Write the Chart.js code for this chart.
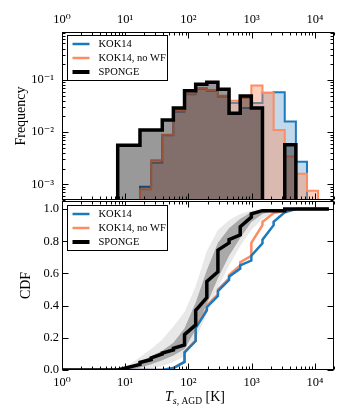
<!DOCTYPE html>
<html>
<head>
<meta charset="utf-8">
<script src="https://cdn.jsdelivr.net/npm/chart.js@4"></script>
<style>
  body { margin: 0; background: #fff; }
  #wrap { position: relative; width: 350px; height: 420px; }
  canvas { position: absolute; left: 0; }
</style>
</head>
<body>
<div id="wrap">
  <canvas id="freq_chart" width="350" height="201" style="top:0"></canvas>
  <canvas id="cdf_chart" width="350" height="220" style="top:200px"></canvas>
</div>
<script>
// Series names and colours
const series_labels = ["KOK14", "KOK14, no WF", "SPONGE"];
const series_colors = ["rgb(28,122,188)", "rgb(252,141,98)", "#000000"];
const legend_widths = [2.5, 2.5, 4];

// Histogram bin edges [K] (factor 1.5 apart) and frequencies per bin
const bin_edges = [7.6, 11.4, 17.1, 25.7, 38.5, 57.7, 86.6, 130, 195, 292, 438, 658, 986, 1479, 2219, 3328, 4993, 7489, 11234];
const freq_kok14   = [0, 0, 0.0009, 0.0026, 0.0087, 0.0247, 0.053, 0.068, 0.062, 0.048, 0.036, 0.029, 0.036, 0.057, 0.058, 0.016, 0.0027, 0];
const freq_no_wf   = [0, 0, 0.0008, 0.0029, 0.0089, 0.026, 0.055, 0.070, 0.064, 0.050, 0.040, 0.045, 0.078, 0.056, 0.011, 0.0034, 0.0016, 0.00075];
const freq_sponge  = [0.0056, 0.0056, 0.011, 0.011, 0.017, 0.029, 0.062, 0.083, 0.090, 0.066, 0.023, 0.049, 0.029, 0, 0, 0.0057, 0, 0];

// CDF curves: temperature [K] and cumulative fraction
const cdf_kok14_t = [1, 38.5, 57.7, 86.6, 86.6, 130, 130, 195, 195, 292, 292, 438, 438, 658, 658, 986, 986, 1479, 1479, 2219, 2219, 3328, 4993, 16600];
const cdf_kok14   = [0, 0, 0.012, 0.05, 0.11, 0.18, 0.26, 0.37, 0.39, 0.46, 0.49, 0.56, 0.58, 0.63, 0.65, 0.68, 0.71, 0.787, 0.81, 0.90, 0.92, 0.98, 1.0, 1.0];
const cdf_no_wf_t = [1, 38.5, 57.7, 86.6, 86.6, 130, 130, 195, 195, 292, 292, 438, 438, 658, 658, 986, 986, 1479, 1479, 2219, 3328, 4993, 16600];
const cdf_no_wf   = [0, 0, 0.012, 0.05, 0.11, 0.185, 0.27, 0.38, 0.40, 0.47, 0.50, 0.57, 0.59, 0.65, 0.67, 0.71, 0.79, 0.90, 0.92, 0.975, 0.99, 1.0, 1.0];
const cdf_sponge_t = [1, 7.6, 17.1, 17.1, 25.7, 25.7, 38.5, 38.5, 57.7, 57.7, 86.6, 86.6, 130, 130, 195, 195, 292, 292, 438, 438, 658, 658, 986, 986, 1479, 3328, 3328, 16600];
const cdf_sponge   = [0, 0, 0.035, 0.047, 0.065, 0.075, 0.10, 0.105, 0.125, 0.135, 0.155, 0.22, 0.28, 0.37, 0.45, 0.55, 0.61, 0.745, 0.79, 0.81, 0.84, 0.89, 0.95, 0.97, 0.99, 0.99, 1.0, 1.0];

// Spread of the resampled SPONGE CDFs (grey bundle): outer and dense inner envelope
const band_t        = [7.6, 11.4, 17.1, 25.7, 38.5, 57.7, 86.6, 130, 195, 292, 438, 658, 986, 1479, 2219, 3328, 4993];
const band_outer_hi = [0, 0.03, 0.08, 0.13, 0.19, 0.27, 0.36, 0.52, 0.74, 0.87, 0.93, 0.97, 0.99, 1.0, 1.0, 1.0, 1.0];
const band_outer_lo = [0, 0, 0, 0.01, 0.025, 0.05, 0.085, 0.19, 0.35, 0.51, 0.65, 0.77, 0.87, 0.94, 0.98, 0.995, 1.0];
const band_inner_hi = [0, 0.015, 0.05, 0.085, 0.12, 0.17, 0.26, 0.42, 0.62, 0.79, 0.88, 0.94, 0.98, 1.0, 1.0, 1.0, 1.0];
const band_inner_lo = [0, 0, 0.015, 0.035, 0.06, 0.09, 0.13, 0.25, 0.41, 0.57, 0.71, 0.82, 0.92, 0.97, 0.99, 1.0, 1.0];

// Axis ticks
const decade_ticks = [1, 10, 100, 1000, 10000];
const freq_decades = [1e-3, 1e-2, 1e-1];
const cdf_ticks = [0, 0.2, 0.4, 0.6, 0.8, 1.0];

const x_min = 1, x_max = 2e4;
const freq_min = 5e-4, freq_max = 0.83;
const FLOOR = 1e-6; // stands in for empty bins on the log axis

const serif = "'Liberation Serif', 'DejaVu Serif', serif";
Chart.defaults.font.family = serif;
Chart.defaults.color = "#000";

const SUP = {'0':'⁰','1':'¹','2':'²','3':'³','4':'⁴','5':'⁵','6':'⁶','7':'⁷','8':'⁸','9':'⁹','-':'⁻'};

function is_decade(v) {
  var l = Math.log10(v);
  return Math.abs(l - Math.round(l)) < 1e-6;
}

function decade_label(v) {
  if (!is_decade(v)) return '';
  return '10' + String(Math.round(Math.log10(v))).split('').map(c => SUP[c]).join('');
}

// major decades plus 2..9 minor ticks inside [lo, hi]
function log_ticks(lo, hi) {
  var out = [];
  for (var e = Math.floor(Math.log10(lo)); e <= Math.ceil(Math.log10(hi)); e++) {
    for (var m = 1; m <= 9; m++) {
      var v = m * Math.pow(10, e);
      if (v >= lo * 0.999 && v <= hi * 1.001) out.push(v);
    }
  }
  return out;
}

function hist_points(edges, freq) {
  var pts = [{x: edges[0], y: FLOOR}];
  for (var i = 0; i < freq.length; i++) {
    pts.push({x: edges[i], y: freq[i] > 0 ? freq[i] : FLOOR});
  }
  pts.push({x: edges[edges.length - 1], y: FLOOR});
  return pts;
}

function xy(xs, ys) {
  return xs.map((x, i) => ({x: x, y: ys[i]}));
}

// keep the plot box exactly where the axes put it (no room for end labels)
function no_pad(s) {
  s.paddingTop = 0; s.paddingBottom = 0; s.paddingLeft = 0; s.paddingRight = 0;
}

// frame with inward ticks on all four sides (matplotlib style)
const frame_ticks = {
  id: 'frame_ticks',
  afterDatasetsDraw(chart) {
    const {ctx, chartArea: a} = chart;
    const L = Math.round(a.left) + 0.5, R = Math.round(a.right) - 0.5;
    const T = Math.round(a.top) + 0.5, B = Math.round(a.bottom) - 0.5;
    ctx.save();
    ctx.strokeStyle = '#000';
    ctx.lineWidth = 1;
    ctx.beginPath();
    ['x', 'y'].forEach(function (id) {
      const s = chart.scales[id];
      s.ticks.forEach(function (t) {
        const major = s.type === 'logarithmic' ? is_decade(t.value) : true;
        const len = major ? 6 : 3;
        const p = Math.round(s.getPixelForValue(t.value)) + 0.5;
        if (id === 'x') {
          if (p < L - 1 || p > R + 1) return;
          ctx.moveTo(p, T); ctx.lineTo(p, T + len);
          ctx.moveTo(p, B); ctx.lineTo(p, B - len);
        } else {
          if (p < T - 1 || p > B + 1) return;
          ctx.moveTo(L, p); ctx.lineTo(L + len, p);
          ctx.moveTo(R, p); ctx.lineTo(R - len, p);
        }
      });
    });
    ctx.stroke();
    ctx.strokeRect(L, T, R - L, B - T);
    ctx.restore();
  }
};

// framed legend in the upper left corner of the axes
const legend_box = {
  id: 'legend_box',
  afterDraw(chart, args, opts) {
    const {ctx, chartArea: a} = chart;
    const x0 = Math.round(a.left) + 5.5, y0 = Math.round(a.top) + opts.top + 0.5;
    const w = 100, h = 45;
    ctx.save();
    ctx.fillStyle = '#fff';
    ctx.fillRect(x0, y0, w, h);
    ctx.strokeStyle = '#000';
    ctx.lineWidth = 1;
    ctx.strokeRect(x0, y0, w, h);
    ctx.font = '10.5px ' + serif;
    ctx.textBaseline = 'middle';
    for (var i = 0; i < series_labels.length; i++) {
      const yy = y0 + 8.5 + i * 14;
      ctx.strokeStyle = series_colors[i];
      ctx.lineWidth = legend_widths[i];
      ctx.beginPath();
      ctx.moveTo(x0 + 5, yy);
      ctx.lineTo(x0 + 22, yy);
      ctx.stroke();
      ctx.fillStyle = '#000';
      ctx.fillText(series_labels[i], x0 + 31, yy + 0.5);
    }
    ctx.restore();
  }
};

// x axis title with subscript: T_{s, AGD} [K]
const x_title = {
  id: 'x_title',
  afterDraw(chart) {
    const {ctx, chartArea: a} = chart;
    const parts = [
      {t: 'T', f: 'italic 14px ' + serif, dy: 0},
      {t: 's', f: 'italic 10px ' + serif, dy: 3},
      {t: ', AGD', f: '9.5px ' + serif, dy: 3},
      {t: ' [K]', f: '14px ' + serif, dy: 0}
    ];
    ctx.save();
    var total = 0;
    parts.forEach(function (p) { ctx.font = p.f; p.w = ctx.measureText(p.t).width; total += p.w; });
    var x = (a.left + a.right) / 2 - total / 2 - 3;
    const base = a.bottom + 31;
    ctx.fillStyle = '#000';
    ctx.textBaseline = 'alphabetic';
    parts.forEach(function (p) { ctx.font = p.f; ctx.fillText(p.t, x, base + p.dy); x += p.w; });
    ctx.restore();
  }
};

function x_scale(position, height) {
  return {
    type: 'logarithmic',
    position: position,
    min: x_min,
    max: x_max,
    grid: {display: false, drawTicks: false},
    border: {display: false},
    ticks: {autoSkip: false, maxRotation: 0, padding: 5, font: {size: 12.5}, callback: decade_label},
    afterBuildTicks: function (s) { s.ticks = log_ticks(x_min, x_max).map(v => ({value: v})); },
    afterFit: function (s) { s.height = height; no_pad(s); }
  };
}

function contentLoaded() {
  new Chart(document.getElementById('freq_chart'), {
    type: 'line',
    data: {
      datasets: [
        {data: hist_points(bin_edges, freq_kok14), order: 3,
         borderColor: series_colors[0], borderWidth: 2, backgroundColor: 'rgba(31,119,180,0.28)'},
        {data: hist_points(bin_edges, freq_no_wf), order: 2,
         borderColor: series_colors[1], borderWidth: 2, backgroundColor: 'rgba(252,141,98,0.42)'},
        {data: hist_points(bin_edges, freq_sponge), order: 1,
         borderColor: series_colors[2], borderWidth: 3.5, backgroundColor: 'rgba(0,0,0,0.4)'}
      ].map(d => Object.assign(d, {stepped: 'before', fill: 'start', pointRadius: 0, borderJoinStyle: 'miter'}))
    },
    options: {
      responsive: false,
      animation: false,
      devicePixelRatio: 1,
      events: [],
      layout: {padding: {left: 0, right: 16, top: 0, bottom: 1}},
      scales: {
        x: x_scale('top', 32),
        y: {
          type: 'logarithmic',
          min: freq_min,
          max: freq_max,
          grid: {display: false, drawTicks: false},
          border: {display: false},
          ticks: {autoSkip: false, padding: 8, font: {size: 12.5}, callback: decade_label},
          afterBuildTicks: function (s) { s.ticks = log_ticks(freq_min, freq_max).map(v => ({value: v})); },
          afterFit: function (s) { s.width = 62; no_pad(s); },
          title: {display: true, text: 'Frequency', font: {size: 14}, padding: {top: 13, bottom: 0}}
        }
      },
      plugins: {
        legend: {display: false},
        tooltip: {enabled: false},
        filler: {drawTime: 'beforeDatasetDraw'},
        legend_box: {top: 3}
      }
    },
    plugins: [frame_ticks, legend_box]
  });

  const band = {borderWidth: 0, borderColor: 'transparent', pointRadius: 0, order: 10};
  new Chart(document.getElementById('cdf_chart'), {
    type: 'line',
    data: {
      datasets: [
        Object.assign({data: xy(band_t, band_outer_hi), fill: '+1', backgroundColor: 'rgba(150,150,150,0.22)'}, band),
        Object.assign({data: xy(band_t, band_outer_lo), fill: false}, band),
        Object.assign({data: xy(band_t, band_inner_hi), fill: '+1', backgroundColor: 'rgba(110,110,110,0.55)'}, band),
        Object.assign({data: xy(band_t, band_inner_lo), fill: false}, band),
        {label: series_labels[1], data: xy(cdf_no_wf_t, cdf_no_wf), order: 3,
         borderColor: series_colors[1], borderWidth: 2.5, fill: false, pointRadius: 0},
        {label: series_labels[0], data: xy(cdf_kok14_t, cdf_kok14), order: 2,
         borderColor: series_colors[0], borderWidth: 2.5, fill: false, pointRadius: 0},
        {label: series_labels[2], data: xy(cdf_sponge_t, cdf_sponge), order: 1,
         borderColor: series_colors[2], borderWidth: 3.5, fill: false, pointRadius: 0}
      ]
    },
    options: {
      responsive: false,
      animation: false,
      devicePixelRatio: 1,
      events: [],
      layout: {padding: {left: 0, right: 16, top: 1, bottom: 0}},
      scales: {
        x: x_scale('bottom', 50),
        y: {
          type: 'linear',
          min: 0,
          max: 1.05,
          grid: {display: false, drawTicks: false},
          border: {display: false},
          ticks: {autoSkip: false, padding: 3, font: {size: 12.5}, callback: v => v.toFixed(1)},
          afterBuildTicks: function (s) { s.ticks = cdf_ticks.map(v => ({value: v})); },
          afterFit: function (s) { s.width = 62; no_pad(s); },
          title: {display: true, text: 'CDF', font: {size: 14}, padding: {top: 18, bottom: 0}}
        }
      },
      plugins: {
        legend: {display: false},
        tooltip: {enabled: false},
        legend_box: {top: 4}
      }
    },
    plugins: [frame_ticks, legend_box, x_title]
  });
}

document.addEventListener('DOMContentLoaded', contentLoaded, false);
</script>
</body>
</html>
